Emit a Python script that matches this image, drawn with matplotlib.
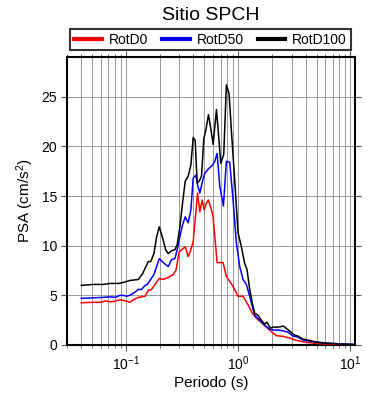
import matplotlib
matplotlib.use("Agg")
import matplotlib.pyplot as plt
from matplotlib.ticker import LogLocator, NullFormatter, MultipleLocator
from matplotlib.lines import Line2D

plt.rcParams['font.family'] = ['Liberation Sans', 'DejaVu Sans']
plt.rcParams['mathtext.fontset'] = 'custom'
plt.rcParams['mathtext.rm'] = 'Liberation Sans'
plt.rcParams['mathtext.it'] = 'Liberation Sans:italic'

title = "Sitio SPCH"
xlabel = "Periodo (s)"
ylabel = "PSA (cm/s$^2$)"
labels = ["RotD0", "RotD50", "RotD100"]
colors = ["#ff0000", "#0000ff", "#000000"]

T_rotd0 = [0.0402,0.0516,0.0612,0.0656,0.0726,0.0804,0.0891,0.0987,0.1093,0.1170,0.1296,0.1484,0.1589,0.1701,0.1821,0.1990,0.2159,0.2392,0.2649,0.2797,0.2994,0.3206,0.3386,0.3599,0.3802,0.3987,0.4210,0.4358,0.4569,0.4793,0.4992,0.5236,0.5453,0.5797,0.6000,0.6510,0.7361,0.7876,0.8433,0.9029,1.0,1.108,1.227,1.341,1.455,1.667,1.910,2.189,2.508,2.875,3.295,4.042,5.308,7.463,10.85]
psa_rotd0 = [4.25,4.3,4.3,4.45,4.35,4.4,4.55,4.45,4.3,4.55,4.8,4.9,5.5,5.6,6.1,6.7,6.6,6.8,7.1,7.5,9.4,9.65,9.9,8.9,9.6,10.4,13.3,15.3,13.4,14.6,13.6,14.3,14.6,13.6,12.9,8.3,8.3,6.9,6.4,5.9,4.9,4.9,4.05,3.2,2.7,2.1,1.5,0.94,0.87,0.7,0.47,0.27,0.13,0.07,0.03]

T_rotd50 = [0.0402,0.0516,0.0634,0.0726,0.0804,0.0891,0.0953,0.1021,0.1130,0.1235,0.1296,0.1387,0.1484,0.1557,0.1667,0.1784,0.1884,0.1990,0.2115,0.2265,0.2392,0.2560,0.2741,0.2874,0.3035,0.3206,0.3386,0.3599,0.3802,0.3987,0.4210,0.4385,0.4569,0.4826,0.5061,0.5415,0.5918,0.6207,0.6510,0.6875,0.7410,0.7876,0.8433,0.9029,0.9665,1.035,1.108,1.186,1.270,1.341,1.406,1.557,1.725,1.910,2.115,2.343,2.543,2.779,3.078,3.409,3.776,4.631,6.083,8.551,10.85]
psa_rotd50 = [4.7,4.75,4.8,4.85,4.8,5.0,5.0,4.9,5.1,5.4,5.6,5.6,6.0,6.1,6.6,7.1,7.9,8.7,8.4,8.1,7.9,8.6,8.7,9.6,10.9,12.1,12.9,12.3,13.6,16.8,17.1,16.0,15.3,16.5,17.3,17.7,18.1,18.5,19.3,16.0,14.0,18.5,18.4,14.6,10.3,7.9,6.6,6.1,4.9,3.9,3.0,2.5,2.0,1.6,1.5,1.5,1.4,1.3,0.9,0.8,0.5,0.33,0.2,0.1,0.05]

T_rotd100 = [0.0402,0.0516,0.0634,0.0726,0.0861,0.0953,0.1093,0.1296,0.1415,0.1589,0.1667,0.1784,0.1884,0.1990,0.2115,0.2265,0.2392,0.2560,0.2741,0.2874,0.3035,0.3206,0.3386,0.3599,0.3802,0.3987,0.4153,0.4328,0.4507,0.4728,0.4958,0.5164,0.5453,0.5680,0.6000,0.6422,0.6690,0.7017,0.7461,0.7876,0.8319,0.8727,0.9342,1.0,1.071,1.146,1.202,1.270,1.341,1.406,1.505,1.611,1.725,1.809,1.936,2.045,2.265,2.543,2.875,3.184,3.409,3.776,4.182,4.958,5.682,7.463,9.797,10.85]
psa_rotd100 = [6.0,6.1,6.1,6.2,6.2,6.3,6.5,6.6,7.2,8.4,8.4,9.2,10.9,11.9,10.9,9.6,9.2,9.5,9.6,10.1,11.9,14.3,16.5,17.0,18.1,20.9,20.6,16.3,16.5,17.0,20.8,21.6,23.2,22.0,20.2,23.7,21.3,18.3,19.2,26.2,25.3,21.6,16.6,11.3,9.9,8.2,7.6,5.6,4.2,3.2,3.0,2.5,2.1,2.3,1.7,1.8,1.8,1.9,1.4,1.0,0.9,0.6,0.5,0.3,0.2,0.13,0.07,0.05]

yticks = [0, 5, 10, 15, 20, 25]

fig = plt.figure(figsize=(3.9, 4.0), dpi=100)
ax = fig.add_axes([67/390, 1 - 345/400, 288/390, 288/400])

series = [(T_rotd0, psa_rotd0), (T_rotd50, psa_rotd50), (T_rotd100, psa_rotd100)]
for (t, p), c, lab in zip(series, colors, labels):
    ax.plot(t, p, color=c, lw=1.1, label=lab, zorder=3)

ax.set_xscale('log')
ax.set_xlim(0.03, 11)
ax.set_ylim(0, 29)
ax.set_yticks(yticks)
ax.xaxis.set_major_locator(LogLocator(base=10, numticks=10))
ax.xaxis.set_minor_locator(LogLocator(base=10, subs=range(2, 10), numticks=20))
ax.xaxis.set_minor_formatter(NullFormatter())

ax.grid(True, which='both', axis='x', color='#888888', lw=0.6)
ax.grid(True, which='major', axis='y', color='#888888', lw=0.6)
ax.set_axisbelow(True)

for s in ax.spines.values():
    s.set_linewidth(1.5)

ax.tick_params(which='major', direction='out', length=4, width=0.8, labelsize=10,
               top=True, right=True, color='#555555')
ax.tick_params(which='minor', direction='out', length=2.5, width=0.6, top=True, color='#555555')
ax.tick_params(axis='y', which='minor', left=False, right=False)
ax.tick_params(pad=3)

ax.set_xlabel(xlabel, fontsize=11, labelpad=2)
ax.set_ylabel(ylabel, fontsize=11, labelpad=4)
fig.text(211/390, 1 - 15/400, title, fontsize=14, ha='center', va='center')

handles = [Line2D([0], [0], color=c, lw=3) for c in colors]
leg = fig.legend(handles, labels, loc='center', ncol=3,
                 bbox_to_anchor=(210.5/390, 1 - 39.5/400), fontsize=10,
                 frameon=True, fancybox=False, edgecolor='black',
                 handlelength=2.0, handletextpad=0.5, columnspacing=1.0,
                 borderpad=0.25, borderaxespad=0)
leg.get_frame().set_linewidth(1.5)

fig.savefig('out.png', dpi=100)
